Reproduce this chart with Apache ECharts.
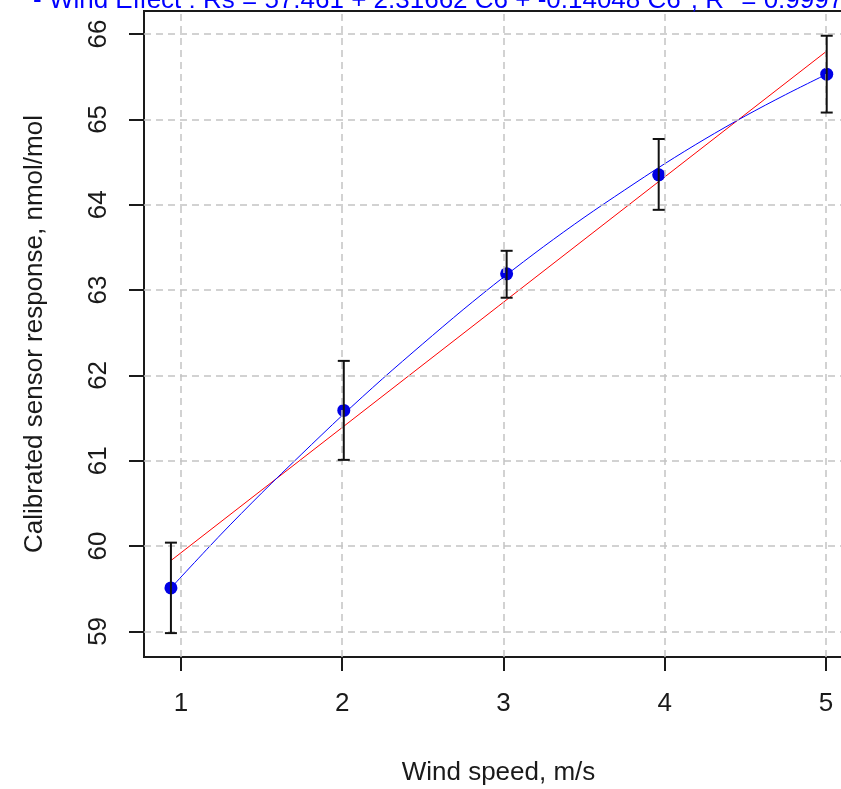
<!DOCTYPE html>
<html>
<head>
<meta charset="utf-8">
<script src="https://cdn.jsdelivr.net/npm/echarts@6/dist/echarts.min.js"></script>
<style>html,body{margin:0;padding:0;background:#fff}#c{width:841px;height:789px}</style>
</head>
<body>
<div id="c"></div>
<script>
// ---- data ----
// title pieces: [text, isSuperscript]
const titleParts = [
  ['- Wind Effect : Rs = 57.461 + 2.31662 C6 + -0.14048 C6', false],
  ['2', true],
  [', R', false],
  ['2', true],
  [' = 0.99972', false]
];
const xTicks = [1, 2, 3, 4, 5];
const yTicks = [59, 60, 61, 62, 63, 64, 65, 66];
const windSpeed = [0.938, 2.01, 3.02, 3.963, 5.005];
const response = [59.51, 61.59, 63.19, 64.35, 65.53];
const errLow = [58.98, 61.01, 62.91, 63.94, 65.08];
const errHigh = [60.04, 62.17, 63.46, 64.77, 65.98];
const linearX = [0.938, 5.005];
const linearY = [59.83, 65.80];
const quadX = [0.938, 1.25, 1.5, 1.75, 2.0, 2.25, 2.5, 2.75, 3.0, 3.25, 3.5, 3.75, 4.0, 4.25, 4.5, 4.75, 5.005];
const quadY = [59.51, 60.14, 60.62, 61.08, 61.53, 61.96, 62.37, 62.77, 63.15, 63.51, 63.85, 64.17, 64.48, 64.77, 65.04, 65.29, 65.53];

const FONT = 'Liberation Sans, Arial, sans-serif';
const chart = echarts.init(document.getElementById('c'), null, {renderer: 'canvas'});

// build title pieces placed side by side
const mctx = document.createElement('canvas').getContext('2d');
const titleEls = [];
let tx = 33;
titleParts.forEach(([t, sup]) => {
  const fs = sup ? 18 : 26;
  mctx.font = fs + 'px ' + FONT;
  titleEls.push({
    type: 'text', x: tx, y: sup ? -11 : 1, silent: true,
    style: {text: t, fill: '#0000ff', fontSize: fs, fontFamily: FONT, verticalAlign: 'middle', align: 'left'}
  });
  tx += mctx.measureText(t).width;
});

const pts = windSpeed.map((x, i) => [x, response[i]]);
const errData = windSpeed.map((x, i) => [x, errLow[i], errHigh[i]]);
const gridLines = xTicks.map(v => ({xAxis: v})).concat(yTicks.map(v => ({yAxis: v})));

chart.setOption({
  animation: false,
  backgroundColor: '#fff',
  graphic: titleEls,
  grid: {left: 144, top: 11, right: -12, bottom: 132, show: true, borderColor: '#1a1a1a', borderWidth: 2, containLabel: false, outerBoundsMode: 'none'},
  xAxis: {
    type: 'value', min: 0.771, max: 5.168,
    name: 'Wind speed, m/s', nameLocation: 'middle', nameGap: 103,
    nameTextStyle: {fontSize: 26, fontFamily: FONT, color: '#1a1a1a'},
    axisLine: {show: true, onZero: false, lineStyle: {color: '#1a1a1a', width: 2}},
    axisTick: {show: true, customValues: xTicks, length: 14, inside: false, lineStyle: {color: '#1a1a1a', width: 2}},
    axisLabel: {customValues: xTicks, fontSize: 26, fontFamily: FONT, color: '#1a1a1a', margin: 34},
    splitLine: {show: false}
  },
  yAxis: {
    type: 'value', min: 58.70, max: 66.27,
    name: 'Calibrated sensor response, nmol/mol', nameLocation: 'middle', nameGap: 96,
    nameTextStyle: {fontSize: 26, fontFamily: FONT, color: '#1a1a1a'},
    axisLine: {show: true, onZero: false, lineStyle: {color: '#1a1a1a', width: 2}},
    axisTick: {show: true, customValues: yTicks, length: 15, inside: false, lineStyle: {color: '#1a1a1a', width: 2}},
    axisLabel: {customValues: yTicks, rotate: 90, fontSize: 26, fontFamily: FONT, color: '#1a1a1a', margin: 32},
    splitLine: {show: false}
  },
  series: [
    {
      type: 'line', data: [], z: 1, silent: true,
      markLine: {
        silent: true, symbol: ['none', 'none'], label: {show: false}, animation: false,
        lineStyle: {color: '#c4c4c4', type: [7, 5], width: 1.5},
        emphasis: {disabled: true},
        data: gridLines
      }
    },
    {
      type: 'line', data: linearX.map((x, i) => [x, linearY[i]]), showSymbol: false, z: 3,
      lineStyle: {color: '#ff0000', width: 1}, silent: true
    },
    {
      type: 'line', data: quadX.map((x, i) => [x, quadY[i]]), showSymbol: false, smooth: 0.3, z: 3,
      lineStyle: {color: '#0000ff', width: 1}, silent: true
    },
    {
      type: 'scatter', data: pts, symbol: 'circle', symbolSize: 13, z: 4,
      itemStyle: {color: '#0000e6', opacity: 1}, silent: true
    },
    {
      type: 'custom', z: 5, silent: true, data: errData,
      renderItem: function (params, api) {
        const x = api.value(0);
        const lo = api.coord([x, api.value(1)]);
        const hi = api.coord([x, api.value(2)]);
        const w = 6;
        const st = {stroke: '#111', lineWidth: 2};
        return {type: 'group', children: [
          {type: 'line', shape: {x1: lo[0], y1: lo[1], x2: hi[0], y2: hi[1]}, style: st},
          {type: 'line', shape: {x1: lo[0] - w, y1: lo[1], x2: lo[0] + w, y2: lo[1]}, style: st},
          {type: 'line', shape: {x1: hi[0] - w, y1: hi[1], x2: hi[0] + w, y2: hi[1]}, style: st}
        ]};
      }
    }
  ]
});
</script>
</body>
</html>
